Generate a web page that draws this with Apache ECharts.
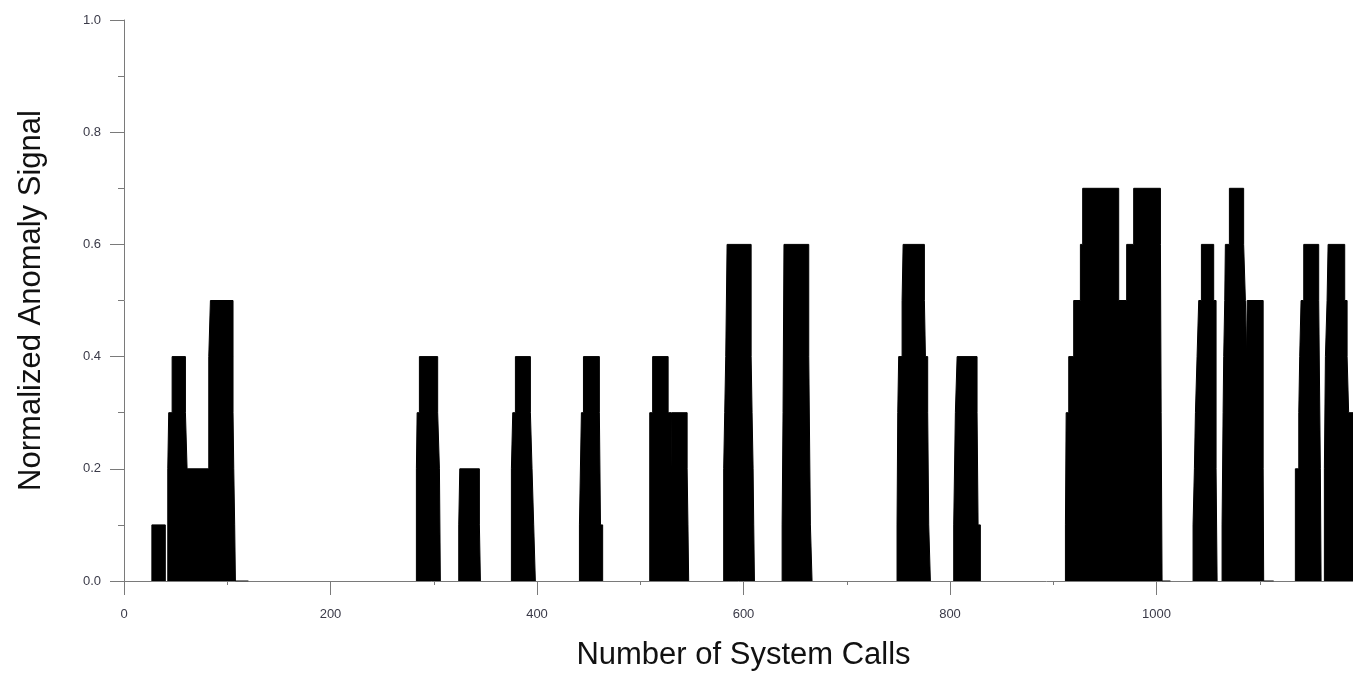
<!DOCTYPE html>
<html>
<head>
<meta charset="utf-8">
<script src="https://cdn.jsdelivr.net/npm/echarts@6/dist/echarts.min.js"></script>
<style>
html,body{margin:0;padding:0;background:#fff;}
#chart{width:1353px;height:673px;}
</style>
</head>
<body>
<div id="chart"></div>
<script>
// Signal change points (system call index, value held from that index on); null separates groups
const callIndex = [
  27, 27, 40, null,
  42.4, 42.4, 43.3, 46.6, 59.5, 61.1, 82.1, 83.7, 105.6, 106.3, 107.2, 107.9, 120.5, null,
  283.2, 283.2, 283.9, 286.1, 303.8, 305.5, 306.4, null,
  324.2, 324.2, 325.2, 344.2, 345.2, null,
  375.2, 375.2, 376.5, 379.1, 393.6, 395.2, 396.8, 398.4, null,
  441.1, 441.1, 443, 445, 460.4, 461.5, 463.6, null,
  509.2, 509.2, 512, 527, 529.8, 530.3, 545.4, 546.2, 546.9, null,
  580.8, 580.8, 581.8, 582.8, 584.1, 607.4, 608.3, 609.3, 609.9, 610.6, null,
  637.4, 637.4, 638.3, 639.2, 663.2, 664.8, 666.4, null,
  748.7, 748.7, 749.4, 750.3, 753.6, 754.6, 775.2, 776.2, 778.4, 779.4, 781, null,
  803.6, 803.6, 805.2, 806.9, 826.2, 827.2, 829.4, null,
  911.8, 911.8, 912.5, 915, 919.8, 926.3, 928.5, 963.4, 971.1, 977.9, 1003.8, 1004.5, 1005.4, 1013.5, null,
  1035.4, 1035.4, 1036.7, 1037.7, 1039.3, 1040.9, 1043.5, 1055.4, 1057.7, 1058.7, null,
  1063.5, 1063.5, 1064.5, 1065.1, 1066.1, 1066.7, 1070.6, 1084.4, 1086.1, 1087.3, 1087.8, 1103.3, 1103.8, 1113.5, null,
  1134.5, 1134.5, 1137.8, 1138.7, 1140, 1142.6, 1157.1, 1158.7, 1159.4, null,
  1162.6, 1162.6, 1163.6, 1165.2, 1166.2, 1182.3, 1184.6, 1186.1, 1195
];
const signal = [
  0, 0.1, 0, null,
  0, 0.2, 0.3, 0.4, 0.3, 0.2, 0.4, 0.5, 0.3, 0.2, 0.1, 0, 0, null,
  0, 0.2, 0.3, 0.4, 0.3, 0.2, 0, null,
  0, 0.1, 0.2, 0.1, 0, null,
  0, 0.2, 0.3, 0.4, 0.3, 0.2, 0.1, 0, null,
  0, 0.1, 0.3, 0.4, 0.3, 0.1, 0, null,
  0, 0.3, 0.4, 0.3, 0.2, 0.3, 0.2, 0.1, 0, null,
  0, 0.2, 0.3, 0.4, 0.6, 0.4, 0.3, 0.2, 0.1, 0, null,
  0, 0.1, 0.3, 0.6, 0.4, 0.1, 0, null,
  0, 0.1, 0.3, 0.4, 0.5, 0.6, 0.5, 0.4, 0.3, 0.1, 0, null,
  0, 0.1, 0.3, 0.4, 0.3, 0.1, 0, null,
  0, 0.1, 0.3, 0.4, 0.5, 0.6, 0.7, 0.5, 0.6, 0.7, 0.6, 0.3, 0, 0, null,
  0, 0.1, 0.2, 0.3, 0.4, 0.5, 0.6, 0.5, 0.2, 0, null,
  0, 0.1, 0.3, 0.4, 0.5, 0.6, 0.7, 0.6, 0.5, 0.4, 0.5, 0.2, 0, 0, null,
  0, 0.2, 0.3, 0.4, 0.5, 0.6, 0.5, 0.2, 0, null,
  0, 0.2, 0.4, 0.5, 0.6, 0.5, 0.4, 0.3, 0.3
];
const xTickValues = [0, 200, 400, 600, 800, 1000];
const yTickValues = [0.0, 0.2, 0.4, 0.6, 0.8, 1.0];

// split into groups at nulls, expanding each change point into a step (hold, then jump)
const groups = [];
let cur = [];
for (let i = 0; i < callIndex.length; i++) {
  if (callIndex[i] === null) { if (cur.length) groups.push(cur); cur = []; continue; }
  if (cur.length) cur.push([callIndex[i], cur[cur.length - 1][1]]);
  cur.push([callIndex[i], signal[i]]);
}
if (cur.length) groups.push(cur);

const series = groups.map(g => ({
  type: 'line',
  data: g,
  showSymbol: false,
  symbol: 'none',
  clip: true,
  lineStyle: { color: '#000', width: 1 },
  areaStyle: { color: '#000', opacity: 1 },
  itemStyle: { color: '#000' },
  animation: false
}));

const font = "'Liberation Sans', Arial, Helvetica, sans-serif";
const chart = echarts.init(document.getElementById('chart'), null, { renderer: 'canvas' });
chart.setOption({
  backgroundColor: '#fff',
  animation: false,
  grid: { left: 124, width: 1239, top: 20, bottom: 92, containLabel: false, outerBoundsMode: 'none' },
  xAxis: {
    type: 'value', min: 0, max: 1200, interval: 200,
    name: 'Number of System Calls', nameLocation: 'middle', nameGap: 59,
    nameTextStyle: { fontFamily: font, fontSize: 31, color: '#111' },
    axisLine: { show: true, lineStyle: { color: '#7a7a7a', width: 1 } },
    axisTick: { show: true, length: 14, lineStyle: { color: '#7a7a7a' } },
    minorTick: { show: true, splitNumber: 2, length: 4, lineStyle: { color: '#7a7a7a' } },
    splitLine: { show: false },
    axisLabel: {
      fontFamily: font, fontSize: 13, color: '#3a3a48', margin: 27,
      formatter: v => (xTickValues.indexOf(v) >= 0 ? String(v) : '')
    }
  },
  yAxis: {
    type: 'value', min: 0, max: 1, interval: 0.2,
    name: 'Normalized Anomaly Signal', nameLocation: 'middle', nameGap: 77, nameRotate: 90,
    nameTextStyle: { fontFamily: font, fontSize: 31, color: '#111' },
    axisLine: { show: true, lineStyle: { color: '#7a7a7a', width: 1 } },
    axisTick: { show: true, length: 14, lineStyle: { color: '#7a7a7a' } },
    minorTick: { show: true, splitNumber: 2, length: 6, lineStyle: { color: '#7a7a7a' } },
    splitLine: { show: false },
    axisLabel: {
      fontFamily: font, fontSize: 13, color: '#3a3a48', margin: 23,
      formatter: v => {
        const t = yTickValues.find(y => Math.abs(y - v) < 1e-9);
        return t === undefined ? '' : t.toFixed(1);
      }
    }
  },
  series: series
});
</script>
</body>
</html>
